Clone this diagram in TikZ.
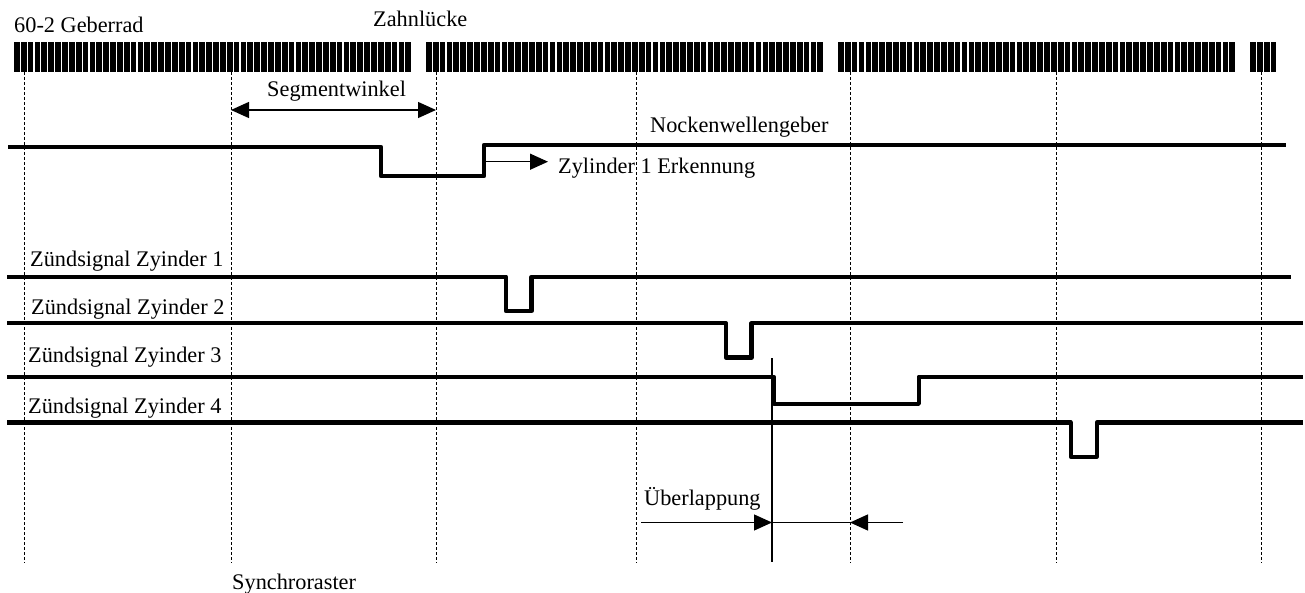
\documentclass[tikz,border=0pt]{standalone}
\usepackage{fontspec}
\setmainfont{Liberation Serif}
\usetikzlibrary{arrows.meta}
\begin{document}
\begin{tikzpicture}[x=1pt,y=-1pt,
  lbl/.style={anchor=base west,inner sep=0pt,font=\fontsize{22.3}{26}\selectfont},
  sig/.style={line width=4.3pt,line join=round},
  raster/.style={line width=1pt,dash pattern=on 3pt off 2pt},
  thinline/.style={line width=1.3pt},
  tri/.tip={Triangle[length=18pt,width=16pt]},
]
\useasboundingbox (0,0) rectangle (1305,593);
% teeth of the 60-2 wheel
\foreach \g/\n in {0/58,1/58,2/58,3/4}{
  \foreach \i in {1,...,\n}{
    \fill ({14+(\g*60+\i-1)*6.867},42) rectangle +(5.7,30);
  }
}
% synchro raster dashed lines
\foreach \x in {24,231,436,636,850,1056,1261}{
  \draw[raster] (\x,72) -- (\x,563);
}
% labels
\node[lbl] (geb) at (14,33) {60-2 Geberrad};
\node[lbl] (zl) at (373,27) {Zahnlücke};
\node[lbl] (seg) at (267,97) {Segmentwinkel};
\node[lbl] (nw) at (650,133) {Nockenwellengeber};
\node[lbl] (zyl) at (558,174) {Zylinder 1 Erkennung};
\node[lbl] (z1) at (30,267) {Zündsignal Zyinder 1};
\node[lbl] (z2) at (31,315) {Zündsignal Zyinder 2};
\node[lbl] (z3) at (28,362) {Zündsignal Zyinder 3};
\node[lbl] (z4) at (28,413) {Zündsignal Zyinder 4};
\node[lbl] (ub) at (644,505) {Überlappung};
\node[lbl] (sy) at (232,589) {Synchroraster};
% signals
\draw[sig] (8,147) -- (381,147) -- (381,176) -- (484,176) -- (484,145) -- (1286,145);
\draw[sig] (7,276.7) -- (506,276.7) -- (506,311) -- (531.5,311) -- (531.5,276.7) -- (1291,276.7);
\draw[sig] (7,323.3) -- (725.8,323.3) -- (725.8,357.5) -- (751.5,357.5) -- (751.5,323.3) -- (1303,323.3);
\draw[sig] (7,376.8) -- (773.8,376.8) -- (773.8,403.8) -- (918.8,403.8) -- (918.8,376.8) -- (1303,376.8);
\draw[sig] (7,422.6) -- (1070.7,422.6) -- (1070.7,456.7) -- (1096.7,456.7) -- (1096.7,422.6) -- (1303,422.6);
% arrows
\coordinate (segL) at (231,110);
\coordinate (segR) at (436,110);
\draw[thinline,tri-tri] (segL) -- (segR);
\coordinate (zylA) at (484,161.7);
\coordinate (zylB) at (548,161.7);
\draw[thinline,-tri] (zylA) -- (zylB);
\coordinate (ovTop) at (772,358);
\coordinate (ovBot) at (772,562);
\draw[thinline] (ovTop) -- (ovBot);
\coordinate (ovL) at (641,522.5);
\coordinate (ovM) at (772,522.5);
\coordinate (ovT) at (850,522.5);
\coordinate (ovR) at (903,522.5);
\draw[thinline,-tri] (ovL) -- (ovM);
\draw[thinline] (ovM) -- (ovT);
\draw[thinline,-tri] (ovR) -- (ovT);
\end{tikzpicture}
\end{document}
